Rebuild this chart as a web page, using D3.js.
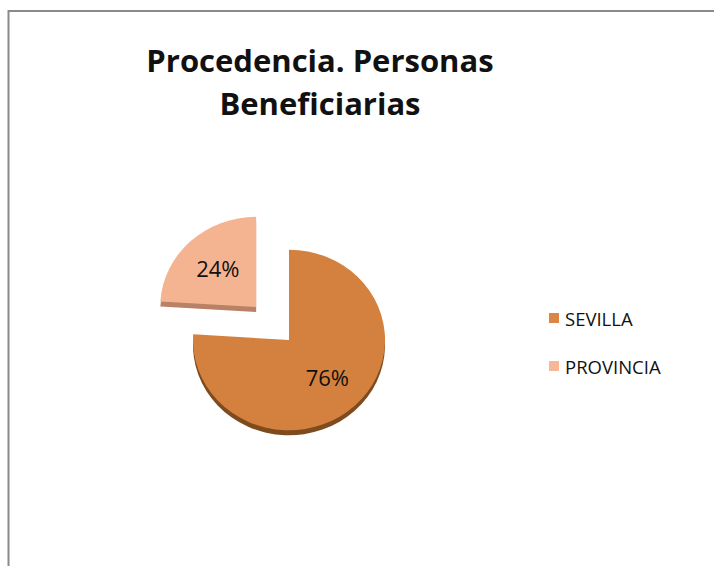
<!DOCTYPE html>
<html>
<head>
<meta charset="utf-8">
<title>Procedencia. Personas Beneficiarias</title>
<style>
  body { margin: 0; background: #fff; }
  text { font-family: "Open Sans", "Noto Sans", sans-serif; fill: #111; }
</style>
</head>
<body>
<script src="https://d3js.org/d3.v7.min.js"></script>
<script>
// data
var categories = ["SEVILLA", "PROVINCIA"];
var values     = [76, 24];
var labels     = ["76%", "24%"];
var titleLines = ["Procedencia. Personas", "Beneficiarias"];

var width = 714, height = 566;
var cx = 289, cy = 340, radius = 96, tilt = 0.94, depth = 5;

var topColor  = d3.scaleOrdinal().domain(categories).range(["#D4813F", "#F5B491"]);
var sideColor = d3.scaleOrdinal().domain(categories).range(["#7E4B1E", "#B98166"]);
var legColor  = d3.scaleOrdinal().domain(categories).range(["#DB8644", "#F8B897"]);
var explode   = d3.scaleOrdinal().domain(categories).range([0, 48]);

var svg = d3.select("body").append("svg")
    .attr("width", width)
    .attr("height", height);

// chart frame
svg.append("rect")
    .attr("x", 8.5).attr("y", 11)
    .attr("width", width + 20).attr("height", height + 20)
    .attr("fill", "none")
    .attr("stroke", "#8a8a8a")
    .attr("stroke-width", 2);

// title
svg.append("text")
    .attr("x", 320).attr("y", 72)
    .attr("text-anchor", "middle")
    .style("font-weight", "bold")
    .style("font-size", "31px")
    .selectAll("tspan")
    .data(titleLines)
    .enter().append("tspan")
    .attr("x", 320)
    .attr("dy", function(d, i) { return i ? 43 : 0; })
    .text(function(d) { return d; });

var pie = d3.pie().sort(null).value(function(d) { return d.value; });
var arcs = pie(categories.map(function(c, i) { return {cat: c, value: values[i], label: labels[i]}; }));

var arc = d3.arc().innerRadius(0).outerRadius(radius);
var labelArc = d3.arc().innerRadius(56).outerRadius(56);

function offset(d) {
    var a = (d.startAngle + d.endAngle) / 2, o = explode(d.data.cat);
    return [Math.sin(a) * o, -Math.cos(a) * o * tilt];
}

var pieG = svg.append("g").attr("transform", "translate(" + cx + "," + cy + ")");

var slices = pieG.selectAll(".slice")
    .data(arcs)
    .enter().append("g")
    .attr("class", "slice")
    .attr("transform", function(d) { var o = offset(d); return "translate(" + o[0] + "," + o[1] + ")"; });

// thickness (drawn first, shifted down)
slices.append("path")
    .attr("transform", "translate(0," + depth + ") scale(1," + tilt + ")")
    .attr("d", arc)
    .attr("fill", function(d) { return sideColor(d.data.cat); });

// top face
slices.append("path")
    .attr("transform", "scale(1," + tilt + ")")
    .attr("d", arc)
    .attr("fill", function(d) { return topColor(d.data.cat); });

slices.append("text")
    .attr("x", function(d) { return labelArc.centroid(d)[0]; })
    .attr("y", function(d) { return labelArc.centroid(d)[1] * tilt - 1; })
    .attr("text-anchor", "middle")
    .attr("dominant-baseline", "central")
    .style("font-size", "22px")
    .text(function(d) { return d.data.label; });

// legend
var legend = svg.append("g").selectAll("g")
    .data(categories)
    .enter().append("g")
    .attr("transform", function(d, i) { return "translate(549," + (313 + i * 48) + ")"; });

legend.append("rect")
    .attr("width", 10).attr("height", 10)
    .attr("fill", function(d) { return legColor(d); });

legend.append("text")
    .attr("x", 16).attr("y", 5)
    .attr("dominant-baseline", "central")
    .style("font-size", "18.5px")
    .text(function(d) { return d; });
</script>
</body>
</html>
